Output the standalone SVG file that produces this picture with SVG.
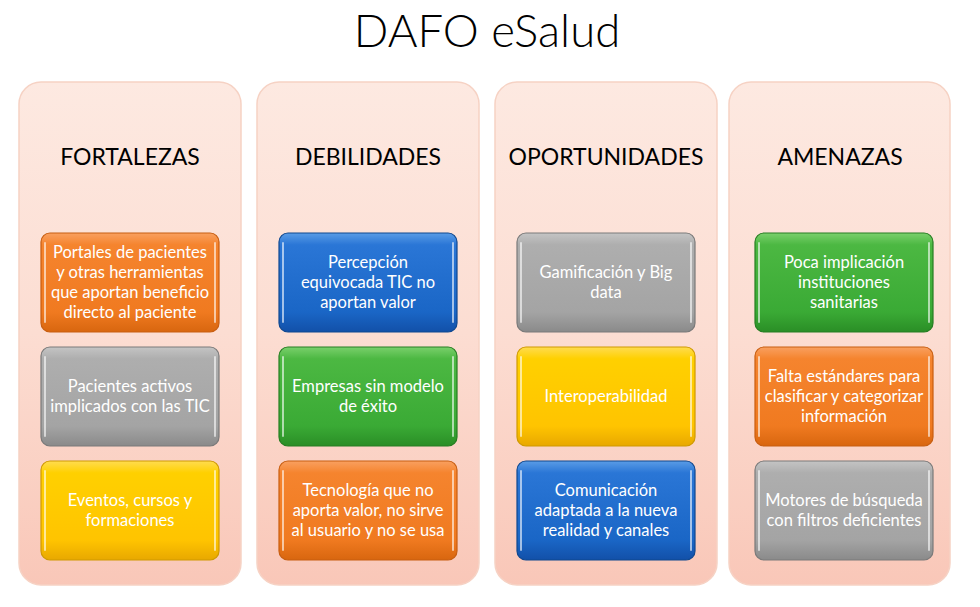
<svg xmlns="http://www.w3.org/2000/svg" width="980" height="607" viewBox="0 0 980 607">
<defs>
<linearGradient id="bg" x1="0" y1="0" x2="0" y2="1"><stop offset="0" stop-color="#FDE9E1"/><stop offset="0.5" stop-color="#FCDDD2"/><stop offset="1" stop-color="#F9C7B8"/></linearGradient>
<linearGradient id="gO" x1="0" y1="0" x2="0" y2="1"><stop offset="0" stop-color="#F9A060"/><stop offset="0.12" stop-color="#F5842E"/><stop offset="0.8" stop-color="#F07A20"/><stop offset="1" stop-color="#D8660F"/></linearGradient>
<linearGradient id="gG" x1="0" y1="0" x2="0" y2="1"><stop offset="0" stop-color="#C4C4C4"/><stop offset="0.12" stop-color="#AEAEAE"/><stop offset="0.8" stop-color="#A4A4A4"/><stop offset="1" stop-color="#8A8A8A"/></linearGradient>
<linearGradient id="gY" x1="0" y1="0" x2="0" y2="1"><stop offset="0" stop-color="#FFDC50"/><stop offset="0.12" stop-color="#FFD000"/><stop offset="0.8" stop-color="#FFC400"/><stop offset="1" stop-color="#E8A800"/></linearGradient>
<linearGradient id="gB" x1="0" y1="0" x2="0" y2="1"><stop offset="0" stop-color="#5A9CE6"/><stop offset="0.12" stop-color="#2A76D6"/><stop offset="0.8" stop-color="#1A66C6"/><stop offset="1" stop-color="#1250A8"/></linearGradient>
<linearGradient id="gN" x1="0" y1="0" x2="0" y2="1"><stop offset="0" stop-color="#7AD06C"/><stop offset="0.12" stop-color="#4CB842"/><stop offset="0.8" stop-color="#3AAA35"/><stop offset="1" stop-color="#2A8E26"/></linearGradient>
</defs>
<style>
.col{fill:url(#bg);stroke:#F6D2C4;stroke-width:1.5}
.card{stroke-width:1.2}
.o{fill:url(#gO);stroke:#C85E10}
.g{fill:url(#gG);stroke:#7A7A7A}
.y{fill:url(#gY);stroke:#D09A00}
.b{fill:url(#gB);stroke:#0F4890}
.n{fill:url(#gN);stroke:#267E22}
.hl{stroke:#FFFFFF;stroke-opacity:0.6;stroke-width:2;stroke-linecap:round}
.t{font-family:Lato,"Open Sans",sans-serif;font-size:16.5px;fill:#FFFFFF;text-anchor:middle}
.h{font-family:Lato,"Open Sans",sans-serif;font-size:23px;fill:#000000;text-anchor:middle}
.title{font-family:Lato,"Open Sans",sans-serif;font-size:45.5px;font-weight:300;fill:#000000;text-anchor:middle}
</style>
<text class="title" x="487" y="47">DAFO eSalud</text>

<g id="fortalezas">
<rect class="col" x="19" y="82" width="222" height="503" rx="22"/>
<text class="h" x="130" y="165">FORTALEZAS</text>
</g>
<g id="debilidades">
<rect class="col" x="257" y="82" width="222" height="503" rx="22"/>
<text class="h" x="368" y="165">DEBILIDADES</text>
</g>
<g id="oportunidades">
<rect class="col" x="495" y="82" width="222" height="503" rx="22"/>
<text class="h" x="606" y="165">OPORTUNIDADES</text>
</g>
<g id="amenazas">
<rect class="col" x="729" y="82" width="221" height="503" rx="22"/>
<text class="h" x="840" y="165">AMENAZAS</text>
</g>

<g id="f1">
<rect class="card o" x="41" y="233" width="178" height="99" rx="9"/>
<line class="hl" x1="45" y1="243" x2="45" y2="322"/><line class="hl" x1="215" y1="243" x2="215" y2="322"/>
<text class="t" x="130" y="258">Portales de pacientes</text>
<text class="t" x="130" y="278">y otras herramientas</text>
<text class="t" x="130" y="298">que aportan beneficio</text>
<text class="t" x="130" y="318">directo al paciente</text>
</g>
<g id="f2">
<rect class="card g" x="41" y="347" width="178" height="99" rx="9"/>
<line class="hl" x1="45" y1="357" x2="45" y2="436"/><line class="hl" x1="215" y1="357" x2="215" y2="436"/>
<text class="t" x="130" y="392">Pacientes activos</text>
<text class="t" x="130" y="412">implicados con las TIC</text>
</g>
<g id="f3">
<rect class="card y" x="41" y="461" width="178" height="99" rx="9"/>
<line class="hl" x1="45" y1="471" x2="45" y2="550"/><line class="hl" x1="215" y1="471" x2="215" y2="550"/>
<text class="t" x="130" y="506">Eventos, cursos y</text>
<text class="t" x="130" y="526">formaciones</text>
</g>

<g id="d1">
<rect class="card b" x="279" y="233" width="178" height="99" rx="9"/>
<line class="hl" x1="283" y1="243" x2="283" y2="322"/><line class="hl" x1="453" y1="243" x2="453" y2="322"/>
<text class="t" x="368" y="268">Percepción</text>
<text class="t" x="368" y="288">equivocada TIC no</text>
<text class="t" x="368" y="308">aportan valor</text>
</g>
<g id="d2">
<rect class="card n" x="279" y="347" width="178" height="99" rx="9"/>
<line class="hl" x1="283" y1="357" x2="283" y2="436"/><line class="hl" x1="453" y1="357" x2="453" y2="436"/>
<text class="t" x="368" y="392">Empresas sin modelo</text>
<text class="t" x="368" y="412">de éxito</text>
</g>
<g id="d3">
<rect class="card o" x="279" y="461" width="178" height="99" rx="9"/>
<line class="hl" x1="283" y1="471" x2="283" y2="550"/><line class="hl" x1="453" y1="471" x2="453" y2="550"/>
<text class="t" x="368" y="496">Tecnología que no</text>
<text class="t" x="368" y="516">aporta valor, no sirve</text>
<text class="t" x="368" y="536">al usuario y no se usa</text>
</g>

<g id="o1">
<rect class="card g" x="517" y="233" width="178" height="99" rx="9"/>
<line class="hl" x1="521" y1="243" x2="521" y2="322"/><line class="hl" x1="691" y1="243" x2="691" y2="322"/>
<text class="t" x="606" y="278">Gamificación y Big</text>
<text class="t" x="606" y="298">data</text>
</g>
<g id="o2">
<rect class="card y" x="517" y="347" width="178" height="99" rx="9"/>
<line class="hl" x1="521" y1="357" x2="521" y2="436"/><line class="hl" x1="691" y1="357" x2="691" y2="436"/>
<text class="t" x="606" y="402">Interoperabilidad</text>
</g>
<g id="o3">
<rect class="card b" x="517" y="461" width="178" height="99" rx="9"/>
<line class="hl" x1="521" y1="471" x2="521" y2="550"/><line class="hl" x1="691" y1="471" x2="691" y2="550"/>
<text class="t" x="606" y="496">Comunicación</text>
<text class="t" x="606" y="516">adaptada a la nueva</text>
<text class="t" x="606" y="536">realidad y canales</text>
</g>

<g id="a1">
<rect class="card n" x="755" y="233" width="178" height="99" rx="9"/>
<line class="hl" x1="759" y1="243" x2="759" y2="322"/><line class="hl" x1="929" y1="243" x2="929" y2="322"/>
<text class="t" x="844" y="268">Poca implicación</text>
<text class="t" x="844" y="288">instituciones</text>
<text class="t" x="844" y="308">sanitarias</text>
</g>
<g id="a2">
<rect class="card o" x="755" y="347" width="178" height="99" rx="9"/>
<line class="hl" x1="759" y1="357" x2="759" y2="436"/><line class="hl" x1="929" y1="357" x2="929" y2="436"/>
<text class="t" x="844" y="382">Falta estándares para</text>
<text class="t" x="844" y="402">clasificar y categorizar</text>
<text class="t" x="844" y="422">información</text>
</g>
<g id="a3">
<rect class="card g" x="755" y="461" width="178" height="99" rx="9"/>
<line class="hl" x1="759" y1="471" x2="759" y2="550"/><line class="hl" x1="929" y1="471" x2="929" y2="550"/>
<text class="t" x="844" y="506">Motores de búsqueda</text>
<text class="t" x="844" y="526">con filtros deficientes</text>
</g>
</svg>
